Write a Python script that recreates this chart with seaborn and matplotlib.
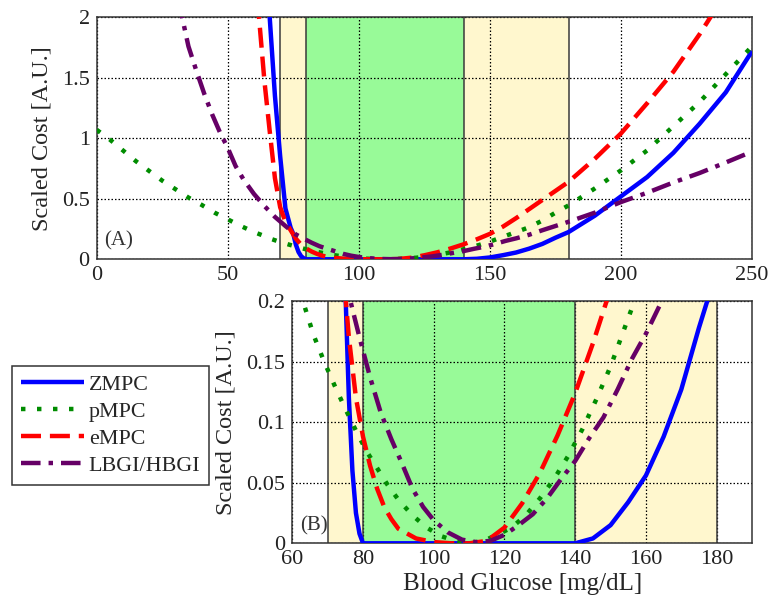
import numpy as np
import pandas as pd
import matplotlib
matplotlib.use("Agg")
import matplotlib.pyplot as plt
from matplotlib.ticker import FuncFormatter
import seaborn as sns

# ---------------- data ----------------
zmpc_x = [64, 66, 68, 70, 72, 74, 75, 76, 77, 78, 79, 80, 100, 120, 140, 145, 150, 155,
          160, 165, 170, 175, 180, 190, 200, 210, 220, 230, 240, 250]
zmpc_y = [2.7, 2.0, 1.35, 0.85, 0.42, 0.26, 0.21, 0.12, 0.06, 0.025, 0.008, 0.0, 0.0, 0.0,
          0.0, 0.004, 0.015, 0.034, 0.056, 0.088, 0.127, 0.178, 0.225, 0.36, 0.52, 0.68,
          0.88, 1.12, 1.38, 1.72]

pmpc_x = [0, 5, 10, 15, 20, 25, 30, 35, 40, 45, 50, 55, 60, 63, 66, 69, 72, 75, 78, 81, 84,
          87, 90, 94, 98, 102, 106, 110, 114, 118, 122, 126, 130, 134, 138, 142, 146, 150,
          155, 160, 165, 170, 175, 180, 190, 200, 210, 220, 230, 240, 250]
pmpc_y = [1.07, 0.99, 0.90, 0.81, 0.73, 0.65, 0.58, 0.51, 0.45, 0.385, 0.33, 0.275, 0.225,
          0.20, 0.172, 0.15, 0.13, 0.111, 0.093, 0.076, 0.062, 0.048, 0.036, 0.023, 0.013,
          0.006, 0.002, 0.0, 0.002, 0.007, 0.013, 0.023, 0.037, 0.053, 0.072, 0.094, 0.119,
          0.146, 0.186, 0.225, 0.265, 0.32, 0.385, 0.445, 0.585, 0.735, 0.90, 1.10, 1.30,
          1.53, 1.76]

empc_x = [61, 62, 64, 66, 68, 70, 72, 74, 76, 78, 80, 82, 84, 86, 88, 90, 95, 100, 105, 110,
          115, 120, 125, 130, 135, 140, 145, 150, 155, 160, 170, 180, 190, 200, 210, 220,
          230, 240]
empc_y = [2.2, 1.98, 1.47, 1.06, 0.67, 0.43, 0.31, 0.24, 0.17, 0.12, 0.088, 0.064, 0.045,
          0.03, 0.02, 0.012, 0.004, 0.001, 0.0, 0.0, 0.002, 0.013, 0.033, 0.058, 0.089, 0.124,
          0.165, 0.21, 0.27, 0.34, 0.49, 0.64, 0.83, 1.04, 1.29, 1.55, 1.86, 2.2]

bgi_x = [30, 32, 35, 38, 41, 44, 47, 50, 53, 56, 60, 64, 68, 72, 76, 79, 82, 85, 88, 91, 94,
         97, 100, 104, 108, 112, 116, 120, 124, 128, 132, 136, 140, 144, 148, 152, 156, 160,
         165, 170, 180, 190, 200, 210, 220, 230, 240, 250]
bgi_y = [2.3, 2.06, 1.76, 1.56, 1.37, 1.2, 1.05, 0.92, 0.77, 0.66, 0.54, 0.44, 0.35, 0.275,
         0.205, 0.17, 0.137, 0.108, 0.086, 0.066, 0.045, 0.03, 0.019, 0.009, 0.003, 0.001,
         0.002, 0.007, 0.015, 0.024, 0.037, 0.053, 0.068, 0.087, 0.104, 0.127, 0.152, 0.173,
         0.203, 0.24, 0.31, 0.385, 0.473, 0.55, 0.635, 0.713, 0.80, 0.89]

series_names = ["ZMPC", "pMPC", "eMPC", "LBGI/HBGI"]
series_x = [zmpc_x, pmpc_x, empc_x, bgi_x]
series_y = [zmpc_y, pmpc_y, empc_y, bgi_y]

yellow_range = [70, 180]
green_range = [80, 140]

top_xticks = [0, 50, 100, 150, 200, 250]
top_yticks = [0, 0.5, 1, 1.5, 2]
bot_xticks = [60, 80, 100, 120, 140, 160, 180]
bot_yticks = [0, 0.05, 0.1, 0.15, 0.2]

# ---------------- styling ----------------
sns.set_theme(style="white")
plt.rcParams["font.family"] = ["Liberation Serif", "DejaVu Serif"]

colors = ["#0000FF", "#008C00", "#FF0000", "#660066"]
styles = ["-", (0, (1.0, 2.6)), (0, (4.5, 2.0)), (0, (4.4, 1.8, 1.0, 1.8))]
lw = 3.2

fig = plt.figure(figsize=(7.71, 6.02), dpi=100)
ax_top = fig.add_axes([0.1254, 0.5693, 0.8500, 0.4020])
ax_bot = fig.add_axes([0.3791, 0.0975, 0.5963, 0.4025])

fmt = FuncFormatter(lambda v, p: f"{v:g}")


def decorate(ax, xlim, ylim, xticks, yticks):
    ax.axvspan(yellow_range[0], yellow_range[1], color="#FFF7CE", zorder=0.1, lw=0)
    ax.axvspan(green_range[0], green_range[1], color="#98FA98", zorder=0.2, lw=0)
    for xv in yellow_range + green_range:
        ax.axvline(xv, color="#3a3a3a", lw=1.1, zorder=0.6)
    ax.set_xlim(*xlim)
    ax.set_ylim(*ylim)
    ax.set_xticks(xticks)
    ax.set_yticks(yticks)
    ax.xaxis.set_major_formatter(fmt)
    ax.yaxis.set_major_formatter(fmt)
    ax.set_axisbelow(True)
    ax.grid(True, color="black", linestyle=(0, (1.2, 1.6)), linewidth=0.9)
    ax.tick_params(axis="both", labelsize=16, length=0, colors="#222222")
    ax.tick_params(axis="x", pad=5)
    ax.tick_params(axis="y", pad=5)
    for s in ax.spines.values():
        s.set_color("#333333")
        s.set_linewidth(1.1)
        s.set_visible(True)


for ax in (ax_top, ax_bot):
    for name, xs, ys, c, ls in zip(series_names, series_x, series_y, colors, styles):
        df = pd.DataFrame({"x": xs, "y": ys})
        sns.lineplot(data=df, x="x", y="y", ax=ax, color=c, linewidth=lw,
                     linestyle=ls, label=name, zorder=3, legend=False)
    for line in ax.get_lines():
        line.set_dash_capstyle("butt")
        line.set_solid_capstyle("butt")

decorate(ax_top, (0, 250), (0, 2), top_xticks, top_yticks)
decorate(ax_bot, (60, 190), (0, 0.2), bot_xticks, bot_yticks)

ax_top.set_xlabel("")
ax_top.set_ylabel("Scaled Cost [A.U.]", fontsize=17.5, labelpad=7)
ax_bot.set_ylabel("Scaled Cost [A.U.]", fontsize=17.5, labelpad=7)
ax_bot.set_xlabel("Blood Glucose [mg/dL]", fontsize=18, labelpad=3)

ax_top.text(0.011, 0.075, "(A)", transform=ax_top.transAxes, fontsize=15,
            ha="left", va="center", color="#333333")
ax_bot.text(0.016, 0.074, "(B)", transform=ax_bot.transAxes, fontsize=15,
            ha="left", va="center", color="#333333")

handles = [l for l in ax_top.get_lines() if l.get_label() in series_names][:4]
leg = fig.legend(handles, series_names, loc="upper left",
                 bbox_to_anchor=(0.0156, 0.392), borderaxespad=0,
                 fontsize=15.8, handlelength=2.9, handletextpad=0.2,
                 labelspacing=0.3, borderpad=0.4, fancybox=False, framealpha=1)
leg.get_frame().set_edgecolor("#333333")
leg.get_frame().set_linewidth(1.1)

fig.savefig("out.png", dpi=100)
